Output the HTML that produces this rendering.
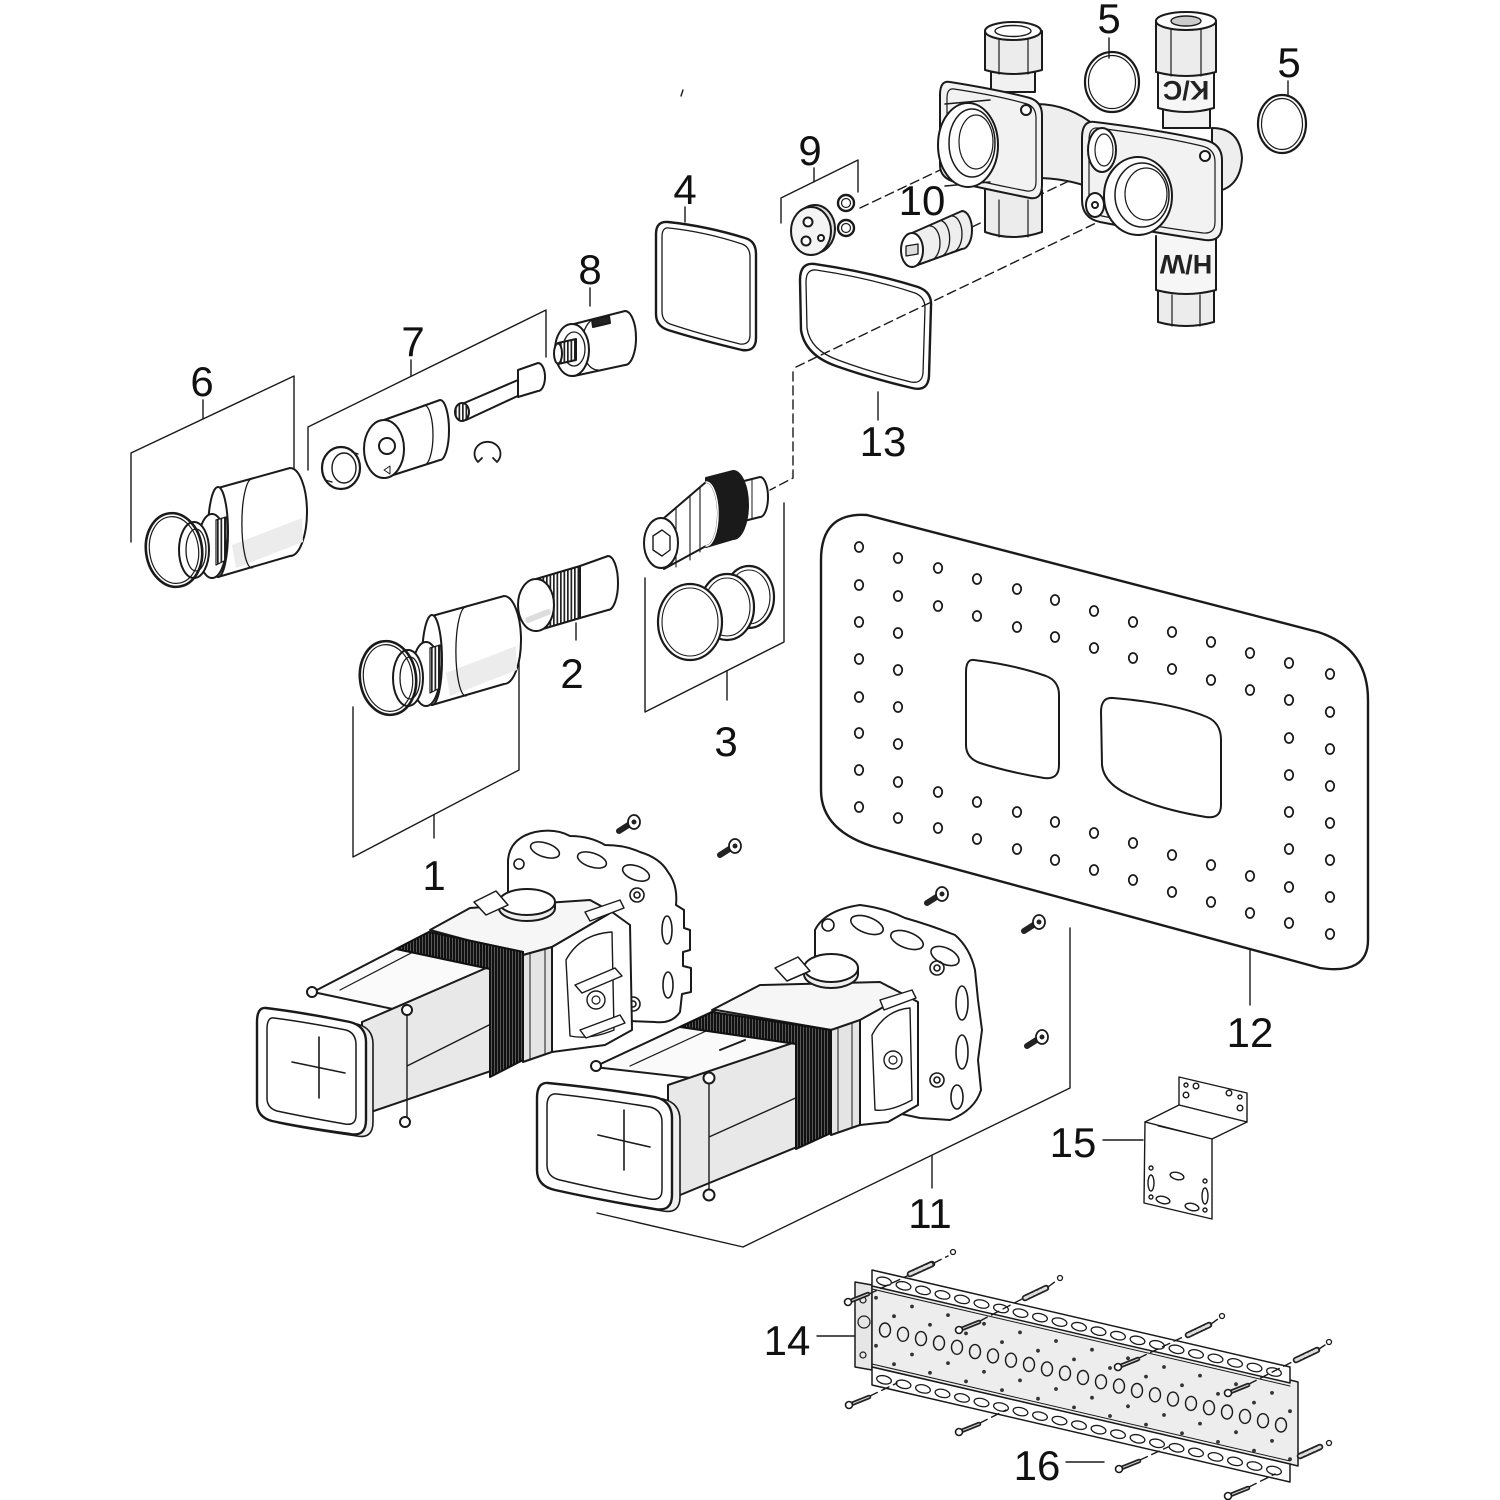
<!DOCTYPE html>
<html><head><meta charset="utf-8"><style>html,body{margin:0;padding:0;background:#fff}svg{display:block}</style></head>
<body>
<svg width="1500" height="1500" viewBox="0 0 1500 1500" xmlns="http://www.w3.org/2000/svg">
<defs>
<pattern id="kn" width="3.5" height="10" patternUnits="userSpaceOnUse"><rect width="3.5" height="10" fill="#fff"/><rect width="1.7" height="10" fill="#222"/></pattern>
<pattern id="bk" width="3" height="10" patternUnits="userSpaceOnUse"><rect width="3" height="10" fill="#111"/><rect x="2" width="0.7" height="10" fill="#777"/></pattern>
</defs>
<rect width="1500" height="1500" fill="#fff"/>
<g fill="none" stroke="#1a1a1a" stroke-width="2" stroke-linejoin="round" stroke-linecap="round">

<!-- ===== leader lines / brackets ===== -->
<g stroke-width="1.4">
<path d="M1109 38 V58"/>
<path d="M1288 81 V96"/>
<path d="M781 223 V198 L858 160 V192"/><path d="M814 168 V182"/>
<path d="M685 207 V222"/>
<path d="M590 288 V306"/>
<path d="M308 470 V427 L546 310 V357"/><path d="M411 360 V376"/>
<path d="M131 542 V453 L294 376 V468"/><path d="M203 400 V419"/>
<path d="M878 392 V420"/>
<path d="M576 623 V640"/>
<path d="M784 503 V642 L645 712 V578"/><path d="M727 671 V700"/>
<path d="M353 707 V857 L519 770 V647"/><path d="M434 815 V838"/>
<path d="M597 1213 L743 1247 L1070 1088 V928"/><path d="M932 1156 V1188"/>
<path d="M1250 950 V1005"/>
<path d="M1103 1140 H1143"/>
<path d="M817 1336 H855"/>
<path d="M1066 1462 H1104"/>
<path d="M683 90 L681 96"/>
</g>
<g stroke-width="1.4" stroke-dasharray="9 5">
<path d="M860 208 L978 152"/>
<path d="M972 227 L1130 152"/>
<path d="M796 367 L1144 200"/>
<path d="M793 372 V478 L770 490"/>
</g>

<!-- ===== valve body (top right) ===== -->
<rect x="991" y="68" width="44" height="24" fill="#f1f1f1"/>
<path d="M985 31 L985 70 Q1013 78 1042 70 L1042 31" fill="#ececec"/>
<path d="M999 36 V74 M1028 36 V74" stroke-width="1.2"/>
<ellipse cx="1013" cy="31" rx="28" ry="9" fill="#fff"/>
<ellipse cx="1013" cy="31" rx="18" ry="5.5" fill="#fff" stroke-width="1.4"/>
<path d="M985 190 L985 232 Q1013 242 1042 232 L1042 190" fill="#ececec"/>
<path d="M999 200 V237 M1028 200 V237" stroke-width="1.2"/>
<path d="M1036 104 Q1070 104 1098 128 L1092 188 Q1065 178 1036 178 Z" fill="#eee"/>
<path d="M950 82 Q1000 90 1030 98 Q1042 102 1042 115 L1042 185 Q1042 200 1030 198 Q990 190 955 182 Q940 178 940 165 L940 95 Q940 80 950 82 Z" fill="#f2f2f2"/>
<path d="M954 89 Q1000 96 1027 104 Q1036 107 1036 118 L1036 182 Q1036 192 1027 191 Q990 184 958 176 Q947 173 947 163 L947 98 Q947 88 954 89 Z" stroke-width="1.2"/>
<circle cx="1026" cy="110" r="5" fill="#fff"/>
<path d="M945 104 L990 100 M945 186 L990 182" stroke-width="1.5"/>
<ellipse cx="968" cy="145" rx="30" ry="42" fill="#fff"/>
<ellipse cx="972" cy="143" rx="23" ry="34" stroke-width="1.5"/>
<ellipse cx="976" cy="142" rx="17" ry="27" stroke-width="1.2"/>
<rect x="1163" y="104" width="47" height="24" fill="#f1f1f1"/>
<path d="M1158 72 L1158 108 Q1186 116 1214 108 L1214 72" fill="#f6f6f6"/>
<path d="M1156 22 L1156 72 Q1186 80 1216 72 L1216 22" fill="#ececec"/>
<path d="M1171 28 V76 M1201 28 V76" stroke-width="1.2"/>
<ellipse cx="1186" cy="21" rx="30" ry="9" fill="#fff"/>
<ellipse cx="1186" cy="21" rx="15" ry="5" fill="#ccc" stroke-width="1.4"/>
<text x="1186" y="101" transform="rotate(180 1186 91)" font-family="'Liberation Sans', sans-serif" font-size="27" font-weight="bold" fill="#222" stroke="none" text-anchor="middle">K/C</text>
<path d="M1158 290 L1158 322 Q1186 330 1214 322 L1214 290" fill="#ececec"/>
<path d="M1156 236 L1156 290 Q1186 298 1216 290 L1216 236" fill="#f6f6f6"/>
<path d="M1172 295 V326 M1200 295 V326" stroke-width="1.2"/>
<text x="1186" y="275" transform="rotate(180 1186 265)" font-family="'Liberation Sans', sans-serif" font-size="27" font-weight="bold" fill="#222" stroke="none" text-anchor="middle">H/W</text>
<path d="M1212 128 Q1240 128 1242 158 Q1240 190 1212 192 Z" fill="#eee"/>
<path d="M1095 122 Q1160 130 1205 140 Q1222 144 1222 160 L1222 225 Q1222 242 1205 240 Q1150 232 1100 222 Q1082 218 1082 200 L1082 138 Q1082 120 1095 122 Z" fill="#f2f2f2"/>
<path d="M1098 128 Q1160 136 1202 146 Q1215 149 1215 162 L1215 222 Q1215 234 1203 233 Q1150 226 1102 216 Q1089 213 1089 200 L1089 140 Q1089 127 1098 128 Z" stroke-width="1.2"/>
<circle cx="1205" cy="156" r="5" fill="#fff"/>
<ellipse cx="1102" cy="150" rx="14" ry="22" fill="#fff"/>
<ellipse cx="1104" cy="150" rx="9" ry="16" stroke-width="1.2"/>
<ellipse cx="1095" cy="205" rx="9" ry="12" fill="#fff"/>
<circle cx="1095" cy="205" r="3"/>
<ellipse cx="1138" cy="196" rx="34" ry="39" fill="#fff"/>
<ellipse cx="1142" cy="195" rx="27" ry="32" stroke-width="1.5"/>
<ellipse cx="1146" cy="194" rx="21" ry="26" stroke-width="1.2"/>

<!-- rings 5 -->
<ellipse cx="1112" cy="82" rx="27" ry="30" stroke-width="2.2"/>
<ellipse cx="1112" cy="82" rx="23.5" ry="26.5" stroke-width="1.2"/>
<ellipse cx="1282" cy="124" rx="24" ry="29" stroke-width="2.2"/>
<ellipse cx="1282" cy="124" rx="20.5" ry="25.5" stroke-width="1.2"/>

<!-- item 10 -->
<path d="M912 233 L962 211 A10 19 0 0 1 962 249 L912 267 Z" fill="#eee"/>
<path d="M930 226 A10 17 0 0 1 930 260 M942 221 A10 18 0 0 1 942 256 M952 216 A10 18 0 0 1 952 252" stroke-width="1.3"/>
<ellipse cx="912" cy="250" rx="11" ry="17" fill="#fff"/>
<path d="M906 246 L918 244 L918 254 L906 256 Z" fill="#ddd" stroke-width="1.3"/>

<!-- item 9 -->
<ellipse cx="815" cy="229" rx="20" ry="24" fill="#ddd"/>
<ellipse cx="811" cy="231" rx="20" ry="24" fill="#f4f4f4"/>
<circle cx="808" cy="222" r="4.5" fill="#fff"/>
<circle cx="806" cy="241" r="4.5" fill="#fff"/>
<circle cx="821" cy="238" r="3" fill="#fff"/>
<ellipse cx="846" cy="203" rx="8" ry="8" stroke-width="2.4"/>
<ellipse cx="846" cy="203" rx="4.5" ry="4.5" stroke-width="1.2"/>
<ellipse cx="846" cy="228" rx="8" ry="8" stroke-width="2.4"/>
<ellipse cx="846" cy="228" rx="4.5" ry="4.5" stroke-width="1.2"/>

<!-- gasket 4 -->
<path d="M668 222 Q706 226 745 238 Q756 241 756 254 L756 338 Q756 352 742 350 Q700 340 668 330 Q656 326 656 314 L656 234 Q656 221 668 222 Z" stroke-width="2.4"/>
<path d="M669 228 Q706 232 742 244 Q750 247 750 257 L750 335 Q750 345 740 344 Q700 334 670 324 Q662 321 662 311 L662 237 Q662 227 669 228 Z" stroke-width="1.3"/>
<!-- gasket 13 -->
<path d="M815 264 Q870 272 918 287 Q932 292 931 306 L929 376 Q928 392 912 388 Q870 378 836 366 Q805 355 801 330 L800 280 Q800 262 815 264 Z" stroke-width="2.4"/>
<path d="M816 270 Q870 278 915 293 Q925 297 925 308 L923 373 Q922 384 911 382 Q870 372 838 360 Q810 350 807 328 L806 282 Q806 269 816 270 Z" stroke-width="1.3"/>

<!-- item 8 -->
<path d="M574 324 L625 311 A11 27 0 0 1 625 365 L574 376 Z" fill="#fff"/>
<path d="M598 318 A16 26 0 0 0 598 370" stroke-width="1.3"/>
<path d="M592 320 L609 316 L610 323 L593 327 Z" fill="#222"/>
<ellipse cx="572" cy="350" rx="17" ry="26" fill="#fff"/>
<ellipse cx="574" cy="349" rx="11" ry="17" stroke-width="1.3"/>
<path d="M558 343 L576 339 L576 360 L558 364 Z" fill="url(#kn)"/>
<ellipse cx="558" cy="353.5" rx="4" ry="10" fill="#fff"/>

<!-- item 7 -->
<ellipse cx="341" cy="468" rx="19" ry="21" fill="#fff" stroke-width="2.2"/>
<ellipse cx="344" cy="468" rx="12" ry="15" stroke-width="1.4"/>
<path d="M325 480 L332 482 M352 452 L358 454" stroke-width="1.4"/>
<path d="M384 420 L440 400 A9 30 0 0 1 440 460 L384 478 Z" fill="#fff"/>
<path d="M424 405 A9 30 0 0 1 424 465" stroke-width="1.3"/>
<ellipse cx="384" cy="449" rx="20" ry="29" fill="#fff"/>
<circle cx="387" cy="446" r="8"/>
<path d="M384 470 L390 466 L390 474 Z" stroke-width="1"/>
<path d="M462 404 L518 380 L522 394 L466 420 Z" fill="#fff"/>
<path d="M518 370 L538 363 A7 14 0 0 1 538 391 L518 397 Z" fill="#fff"/>
<ellipse cx="462" cy="412" rx="7" ry="9" fill="url(#kn)"/>
<path d="M478 462 A13 12 0 1 1 497 462 M478 462 L482 458 M497 462 L493 458" stroke-width="1.8"/>

<!-- item 6 -->
<g id="knob6">
<path d="M218 488 L290 468 A17 44 0 0 1 290 556 L218 577 Z" fill="#fff"/>
<path d="M232 545 L302 518 L303 542 L236 568 Z" fill="#ececec" stroke="none"/>
<path d="M252 479 A10 44 0 0 0 252 568" stroke-width="1.3"/>
<ellipse cx="218" cy="532" rx="10" ry="45" fill="#fff"/>
<ellipse cx="212" cy="546" rx="14" ry="32" fill="#fff"/>
<path d="M216 520 L226 517 L226 560 L216 565 Z" fill="url(#kn)" stroke-width="1.2"/>
<ellipse cx="194" cy="550" rx="15" ry="28" fill="#fff"/>
<ellipse cx="196" cy="550" rx="10" ry="21" stroke-width="1.3"/>
<ellipse cx="174" cy="550" rx="28" ry="37" transform="rotate(-8 174 550)" stroke-width="2.6"/>
<ellipse cx="174" cy="550" rx="24.5" ry="33.5" transform="rotate(-8 174 550)" stroke-width="1.2"/>
</g>

<!-- item 1 -->
<g transform="translate(214 128)">
<path d="M218 488 L290 468 A17 44 0 0 1 290 556 L218 577 Z" fill="#fff"/>
<path d="M232 545 L302 518 L303 542 L236 568 Z" fill="#ececec" stroke="none"/>
<path d="M252 479 A10 44 0 0 0 252 568" stroke-width="1.3"/>
<ellipse cx="218" cy="532" rx="10" ry="45" fill="#fff"/>
<ellipse cx="212" cy="546" rx="14" ry="32" fill="#fff"/>
<path d="M216 520 L226 517 L226 560 L216 565 Z" fill="url(#kn)" stroke-width="1.2"/>
<ellipse cx="194" cy="550" rx="15" ry="28" fill="#fff"/>
<ellipse cx="196" cy="550" rx="10" ry="21" stroke-width="1.3"/>
<ellipse cx="174" cy="550" rx="28" ry="37" transform="rotate(-8 174 550)" stroke-width="2.6"/>
<ellipse cx="174" cy="550" rx="24.5" ry="33.5" transform="rotate(-8 174 550)" stroke-width="1.2"/>
</g>

<!-- item 2 -->
<path d="M580 566 L608 556 A10 27 0 0 1 608 610 L580 618 Z" fill="#fff"/>
<path d="M536 579 L580 566 L580 618 L536 631 Z" fill="url(#kn)"/>
<ellipse cx="536" cy="605" rx="18" ry="26" fill="#fff"/>
<path d="M528 620 L548 612" stroke="#ddd" stroke-width="6"/>

<!-- item 3 cartridge -->
<path d="M740 482 L760 477 A8 20 0 0 1 760 517 L740 522 Z" fill="#fff"/>
<path d="M752 479 L752 519" stroke-width="1"/>
<path d="M706 478 L733 471 A15 34 0 0 1 733 539 L706 547 Z" fill="#1a1a1a"/>
<path d="M664 518 L706 482 A12 32 0 0 1 706 546 L664 569 Z" fill="#fff"/>
<path d="M676 508 L676 567 M690 496 L690 560 M700 488 L700 552" stroke-width="1.1"/>
<path d="M706 482 A12 32 0 0 1 706 546" stroke="#fff" stroke-width="1.5"/>
<ellipse cx="661" cy="543" rx="17" ry="25" fill="#fff"/>
<path d="M653 536 L662 530 L670 536 L670 550 L662 556 L653 550 Z" stroke-width="1.4"/>
<!-- o-rings 3 -->
<ellipse cx="749" cy="597" rx="25" ry="31" stroke-width="2.2"/>
<ellipse cx="749" cy="597" rx="21" ry="27" stroke-width="1.1"/>
<ellipse cx="727" cy="607" rx="27" ry="33" fill="#fff" stroke-width="2.2"/>
<ellipse cx="727" cy="607" rx="23" ry="29" stroke-width="1.1"/>
<ellipse cx="690" cy="622" rx="32" ry="38" fill="#fff" stroke-width="2.2"/>
<ellipse cx="690" cy="622" rx="28" ry="34" stroke-width="1.1"/>

<!-- ===== plate 12 ===== -->
<path d="M821 560 Q821 512 867 515 L1318 632 Q1368 648 1368 700 L1368 940 Q1368 975 1320 968 L878 848 Q821 832 821 790 Z" fill="#fff" stroke-width="2.4"/>
<path d="M974 660 Q1015 665 1046 676 Q1059 681 1059 695 L1059 765 Q1059 780 1044 778 Q1008 772 980 763 Q966 758 966 745 L966 672 Q966 659 974 660 Z"/>
<path d="M1113 698 Q1173 703 1207 717 Q1221 723 1221 740 L1221 805 Q1221 819 1206 817 Q1163 810 1134 797 Q1104 785 1102 765 L1101 712 Q1101 697 1113 698 Z"/>
<g stroke-width="1.8">
<ellipse cx="859" cy="547" rx="4.2" ry="5"/><ellipse cx="859" cy="585" rx="4.2" ry="5"/><ellipse cx="859" cy="622" rx="4.2" ry="5"/><ellipse cx="859" cy="659" rx="4.2" ry="5"/><ellipse cx="859" cy="697" rx="4.2" ry="5"/><ellipse cx="859" cy="733" rx="4.2" ry="5"/><ellipse cx="859" cy="770" rx="4.2" ry="5"/><ellipse cx="859" cy="807" rx="4.2" ry="5"/>
<ellipse cx="898" cy="558" rx="4.2" ry="5"/><ellipse cx="898" cy="596" rx="4.2" ry="5"/><ellipse cx="898" cy="633" rx="4.2" ry="5"/><ellipse cx="898" cy="670" rx="4.2" ry="5"/><ellipse cx="898" cy="707" rx="4.2" ry="5"/><ellipse cx="898" cy="744" rx="4.2" ry="5"/><ellipse cx="898" cy="782" rx="4.2" ry="5"/><ellipse cx="898" cy="818" rx="4.2" ry="5"/>
<ellipse cx="938" cy="568" rx="4.2" ry="5"/><ellipse cx="938" cy="606" rx="4.2" ry="5"/><ellipse cx="938" cy="792" rx="4.2" ry="5"/><ellipse cx="938" cy="828" rx="4.2" ry="5"/>
<ellipse cx="977" cy="579" rx="4.2" ry="5"/><ellipse cx="977" cy="616" rx="4.2" ry="5"/><ellipse cx="977" cy="802" rx="4.2" ry="5"/><ellipse cx="977" cy="839" rx="4.2" ry="5"/>
<ellipse cx="1017" cy="589" rx="4.2" ry="5"/><ellipse cx="1017" cy="627" rx="4.2" ry="5"/><ellipse cx="1017" cy="812" rx="4.2" ry="5"/><ellipse cx="1017" cy="849" rx="4.2" ry="5"/>
<ellipse cx="1055" cy="600" rx="4.2" ry="5"/><ellipse cx="1055" cy="637" rx="4.2" ry="5"/><ellipse cx="1055" cy="822" rx="4.2" ry="5"/><ellipse cx="1055" cy="860" rx="4.2" ry="5"/>
<ellipse cx="1094" cy="611" rx="4.2" ry="5"/><ellipse cx="1094" cy="648" rx="4.2" ry="5"/><ellipse cx="1094" cy="833" rx="4.2" ry="5"/><ellipse cx="1094" cy="870" rx="4.2" ry="5"/>
<ellipse cx="1133" cy="622" rx="4.2" ry="5"/><ellipse cx="1133" cy="658" rx="4.2" ry="5"/><ellipse cx="1133" cy="843" rx="4.2" ry="5"/><ellipse cx="1133" cy="880" rx="4.2" ry="5"/>
<ellipse cx="1172" cy="632" rx="4.2" ry="5"/><ellipse cx="1172" cy="669" rx="4.2" ry="5"/><ellipse cx="1172" cy="855" rx="4.2" ry="5"/><ellipse cx="1172" cy="892" rx="4.2" ry="5"/>
<ellipse cx="1211" cy="642" rx="4.2" ry="5"/><ellipse cx="1211" cy="680" rx="4.2" ry="5"/><ellipse cx="1211" cy="865" rx="4.2" ry="5"/><ellipse cx="1211" cy="902" rx="4.2" ry="5"/>
<ellipse cx="1250" cy="653" rx="4.2" ry="5"/><ellipse cx="1250" cy="690" rx="4.2" ry="5"/><ellipse cx="1250" cy="876" rx="4.2" ry="5"/><ellipse cx="1250" cy="913" rx="4.2" ry="5"/>
<ellipse cx="1289" cy="663" rx="4.2" ry="5"/><ellipse cx="1289" cy="700" rx="4.2" ry="5"/><ellipse cx="1289" cy="738" rx="4.2" ry="5"/><ellipse cx="1289" cy="775" rx="4.2" ry="5"/><ellipse cx="1289" cy="812" rx="4.2" ry="5"/><ellipse cx="1289" cy="849" rx="4.2" ry="5"/><ellipse cx="1289" cy="887" rx="4.2" ry="5"/><ellipse cx="1289" cy="923" rx="4.2" ry="5"/>
<ellipse cx="1330" cy="674" rx="4.2" ry="5"/><ellipse cx="1330" cy="712" rx="4.2" ry="5"/><ellipse cx="1330" cy="749" rx="4.2" ry="5"/><ellipse cx="1330" cy="786" rx="4.2" ry="5"/><ellipse cx="1330" cy="823" rx="4.2" ry="5"/><ellipse cx="1330" cy="860" rx="4.2" ry="5"/><ellipse cx="1330" cy="897" rx="4.2" ry="5"/><ellipse cx="1330" cy="934" rx="4.2" ry="5"/>
</g>

<!-- ===== bracket 15 ===== -->
<g stroke-width="1.4">
<path d="M1179 1077 L1247 1093 L1247 1122 L1179 1105 Z" fill="#fff"/>
<path d="M1145 1122 L1179 1105 L1247 1122 L1212 1139 Z" fill="#fff"/>
<path d="M1145 1122 L1212 1139 L1212 1219 L1144 1203 Z" fill="#fff"/>
<path d="M1158 1126 L1200 1136" stroke-width="1"/>
<circle cx="1186" cy="1085" r="2"/><circle cx="1196" cy="1086" r="2.8"/><circle cx="1229" cy="1093" r="2.8"/><circle cx="1240" cy="1097" r="2"/><circle cx="1186" cy="1095" r="2.8"/><circle cx="1240" cy="1108" r="2.8"/>
<ellipse cx="1151" cy="1183" rx="3" ry="8"/><ellipse cx="1205" cy="1196" rx="3" ry="8"/>
<ellipse cx="1177" cy="1176" rx="7" ry="3.5" transform="rotate(14 1177 1176)"/>
<ellipse cx="1163" cy="1200" rx="7" ry="3.5" transform="rotate(14 1163 1200)"/>
<ellipse cx="1192" cy="1207" rx="7" ry="3.5" transform="rotate(14 1192 1207)"/>
<circle cx="1151" cy="1168" r="2"/><circle cx="1151" cy="1197" r="2"/><circle cx="1205" cy="1181" r="2"/><circle cx="1205" cy="1210" r="2"/>
</g>

<!-- ===== rail 14 ===== -->
<path d="M855 1282 L872 1285 L872 1370 L855 1367 Z" fill="#e6e6e6" stroke-width="1.5"/>
<circle cx="863" cy="1300" r="3" stroke-width="1.2"/><circle cx="864" cy="1322" r="6" stroke-width="1.2"/><circle cx="863" cy="1355" r="3" stroke-width="1.2"/>
<path d="M872 1283 L1290 1380 L1298 1382 L1298 1466 L1290 1464 L872 1367 Z" fill="#ededed" stroke-width="1.5"/>
<path d="M872 1270 L1290 1367 L1290 1383 L872 1286 Z" fill="#fff" stroke-width="1.5"/>
<path d="M872 1367 L1290 1464 L1290 1482 L872 1385 Z" fill="#fff" stroke-width="1.5"/>
<path d="M872 1289 L1290 1386 M872 1364 L1290 1461" stroke-width="1"/>
<g stroke-width="1.4">
<ellipse cx="885" cy="1330" rx="5.5" ry="7"/><ellipse cx="903" cy="1334.3" rx="5.5" ry="7"/><ellipse cx="921" cy="1338.6" rx="5.5" ry="7"/><ellipse cx="939" cy="1343" rx="5.5" ry="7"/><ellipse cx="957" cy="1347.3" rx="5.5" ry="7"/><ellipse cx="975" cy="1351.6" rx="5.5" ry="7"/><ellipse cx="993" cy="1355.9" rx="5.5" ry="7"/><ellipse cx="1011" cy="1360.2" rx="5.5" ry="7"/><ellipse cx="1029" cy="1364.5" rx="5.5" ry="7"/><ellipse cx="1047" cy="1368.9" rx="5.5" ry="7"/><ellipse cx="1065" cy="1373.2" rx="5.5" ry="7"/><ellipse cx="1083" cy="1377.5" rx="5.5" ry="7"/><ellipse cx="1101" cy="1381.8" rx="5.5" ry="7"/><ellipse cx="1119" cy="1386.1" rx="5.5" ry="7"/><ellipse cx="1137" cy="1390.5" rx="5.5" ry="7"/><ellipse cx="1155" cy="1394.8" rx="5.5" ry="7"/><ellipse cx="1173" cy="1399.1" rx="5.5" ry="7"/><ellipse cx="1191" cy="1403.4" rx="5.5" ry="7"/><ellipse cx="1209" cy="1407.7" rx="5.5" ry="7"/><ellipse cx="1227" cy="1412" rx="5.5" ry="7"/><ellipse cx="1245" cy="1416.4" rx="5.5" ry="7"/><ellipse cx="1263" cy="1420.7" rx="5.5" ry="7"/><ellipse cx="1281" cy="1425" rx="5.5" ry="7"/>
</g>
<g stroke-width="1.3">
<ellipse cx="0" cy="0" rx="7.5" ry="4" transform="translate(884 1281.3) rotate(13)"/><ellipse cx="0" cy="0" rx="7.5" ry="4" transform="translate(903.5 1285.8) rotate(13)"/><ellipse cx="0" cy="0" rx="7.5" ry="4" transform="translate(923 1290.4) rotate(13)"/><ellipse cx="0" cy="0" rx="7.5" ry="4" transform="translate(942.5 1294.9) rotate(13)"/><ellipse cx="0" cy="0" rx="7.5" ry="4" transform="translate(962 1299.4) rotate(13)"/><ellipse cx="0" cy="0" rx="7.5" ry="4" transform="translate(981.5 1304) rotate(13)"/><ellipse cx="0" cy="0" rx="7.5" ry="4" transform="translate(1001 1308.5) rotate(13)"/><ellipse cx="0" cy="0" rx="7.5" ry="4" transform="translate(1020.5 1313.1) rotate(13)"/><ellipse cx="0" cy="0" rx="7.5" ry="4" transform="translate(1040 1317.6) rotate(13)"/><ellipse cx="0" cy="0" rx="7.5" ry="4" transform="translate(1059.5 1322.1) rotate(13)"/><ellipse cx="0" cy="0" rx="7.5" ry="4" transform="translate(1079 1326.7) rotate(13)"/><ellipse cx="0" cy="0" rx="7.5" ry="4" transform="translate(1098.5 1331.2) rotate(13)"/><ellipse cx="0" cy="0" rx="7.5" ry="4" transform="translate(1118 1335.7) rotate(13)"/><ellipse cx="0" cy="0" rx="7.5" ry="4" transform="translate(1137.5 1340.3) rotate(13)"/><ellipse cx="0" cy="0" rx="7.5" ry="4" transform="translate(1157 1344.8) rotate(13)"/><ellipse cx="0" cy="0" rx="7.5" ry="4" transform="translate(1176.5 1349.3) rotate(13)"/><ellipse cx="0" cy="0" rx="7.5" ry="4" transform="translate(1196 1353.9) rotate(13)"/><ellipse cx="0" cy="0" rx="7.5" ry="4" transform="translate(1215.5 1358.4) rotate(13)"/><ellipse cx="0" cy="0" rx="7.5" ry="4" transform="translate(1235 1362.9) rotate(13)"/><ellipse cx="0" cy="0" rx="7.5" ry="4" transform="translate(1254.5 1367.5) rotate(13)"/><ellipse cx="0" cy="0" rx="7.5" ry="4" transform="translate(1274 1372) rotate(13)"/>
<ellipse cx="0" cy="0" rx="7.5" ry="4" transform="translate(884 1379.8) rotate(13)"/><ellipse cx="0" cy="0" rx="7.5" ry="4" transform="translate(903.5 1384.3) rotate(13)"/><ellipse cx="0" cy="0" rx="7.5" ry="4" transform="translate(923 1388.9) rotate(13)"/><ellipse cx="0" cy="0" rx="7.5" ry="4" transform="translate(942.5 1393.4) rotate(13)"/><ellipse cx="0" cy="0" rx="7.5" ry="4" transform="translate(962 1397.9) rotate(13)"/><ellipse cx="0" cy="0" rx="7.5" ry="4" transform="translate(981.5 1402.5) rotate(13)"/><ellipse cx="0" cy="0" rx="7.5" ry="4" transform="translate(1001 1407) rotate(13)"/><ellipse cx="0" cy="0" rx="7.5" ry="4" transform="translate(1020.5 1411.6) rotate(13)"/><ellipse cx="0" cy="0" rx="7.5" ry="4" transform="translate(1040 1416.1) rotate(13)"/><ellipse cx="0" cy="0" rx="7.5" ry="4" transform="translate(1059.5 1420.6) rotate(13)"/><ellipse cx="0" cy="0" rx="7.5" ry="4" transform="translate(1079 1425.2) rotate(13)"/><ellipse cx="0" cy="0" rx="7.5" ry="4" transform="translate(1098.5 1429.7) rotate(13)"/><ellipse cx="0" cy="0" rx="7.5" ry="4" transform="translate(1118 1434.2) rotate(13)"/><ellipse cx="0" cy="0" rx="7.5" ry="4" transform="translate(1137.5 1438.8) rotate(13)"/><ellipse cx="0" cy="0" rx="7.5" ry="4" transform="translate(1157 1443.3) rotate(13)"/><ellipse cx="0" cy="0" rx="7.5" ry="4" transform="translate(1176.5 1447.8) rotate(13)"/><ellipse cx="0" cy="0" rx="7.5" ry="4" transform="translate(1196 1452.4) rotate(13)"/><ellipse cx="0" cy="0" rx="7.5" ry="4" transform="translate(1215.5 1456.9) rotate(13)"/><ellipse cx="0" cy="0" rx="7.5" ry="4" transform="translate(1235 1461.4) rotate(13)"/><ellipse cx="0" cy="0" rx="7.5" ry="4" transform="translate(1254.5 1466) rotate(13)"/><ellipse cx="0" cy="0" rx="7.5" ry="4" transform="translate(1274 1470.5) rotate(13)"/>
</g>
<g fill="#333" stroke="none">
<circle cx="876" cy="1297.8" r="1.9"/><circle cx="912" cy="1306.5" r="1.9"/><circle cx="948" cy="1315.1" r="1.9"/><circle cx="984" cy="1323.8" r="1.9"/><circle cx="1020" cy="1332.4" r="1.9"/><circle cx="1056" cy="1341" r="1.9"/><circle cx="1092" cy="1349.7" r="1.9"/><circle cx="1128" cy="1358.3" r="1.9"/><circle cx="1164" cy="1367" r="1.9"/><circle cx="1200" cy="1375.6" r="1.9"/><circle cx="1236" cy="1384.2" r="1.9"/><circle cx="1272" cy="1392.9" r="1.9"/>
<circle cx="894" cy="1316.2" r="1.9"/><circle cx="930" cy="1324.8" r="1.9"/><circle cx="966" cy="1333.4" r="1.9"/><circle cx="1002" cy="1342.1" r="1.9"/><circle cx="1038" cy="1350.7" r="1.9"/><circle cx="1074" cy="1359.4" r="1.9"/><circle cx="1110" cy="1368" r="1.9"/><circle cx="1146" cy="1376.6" r="1.9"/><circle cx="1182" cy="1385.3" r="1.9"/><circle cx="1218" cy="1393.9" r="1.9"/><circle cx="1254" cy="1402.6" r="1.9"/><circle cx="1290" cy="1411.2" r="1.9"/>
<circle cx="876" cy="1345.8" r="1.9"/><circle cx="912" cy="1354.5" r="1.9"/><circle cx="948" cy="1363.1" r="1.9"/><circle cx="984" cy="1371.8" r="1.9"/><circle cx="1020" cy="1380.4" r="1.9"/><circle cx="1056" cy="1389" r="1.9"/><circle cx="1092" cy="1397.7" r="1.9"/><circle cx="1128" cy="1406.3" r="1.9"/><circle cx="1164" cy="1415" r="1.9"/><circle cx="1200" cy="1423.6" r="1.9"/><circle cx="1236" cy="1432.2" r="1.9"/><circle cx="1272" cy="1440.9" r="1.9"/>
<circle cx="894" cy="1364.2" r="1.9"/><circle cx="930" cy="1372.8" r="1.9"/><circle cx="966" cy="1381.4" r="1.9"/><circle cx="1002" cy="1390.1" r="1.9"/><circle cx="1038" cy="1398.7" r="1.9"/><circle cx="1074" cy="1407.4" r="1.9"/><circle cx="1110" cy="1416" r="1.9"/><circle cx="1146" cy="1424.6" r="1.9"/><circle cx="1182" cy="1433.3" r="1.9"/><circle cx="1218" cy="1441.9" r="1.9"/><circle cx="1254" cy="1450.6" r="1.9"/><circle cx="1290" cy="1459.2" r="1.9"/>
</g>
<!-- screws / anchors 16 -->
<g stroke-width="1.4" stroke-dasharray="8 5">
<path d="M869 1294 L907 1276 M934 1263 L948 1256"/>
<path d="M980 1321 L1022 1299 M1048 1287 L1056 1281"/>
<path d="M1139 1358 L1185 1336 M1211 1324 L1218 1319"/>
<path d="M1249 1384 L1292 1362 M1319 1349 L1325 1345"/>
<path d="M870 1396 L897 1383"/>
<path d="M980 1423 L1006 1410"/>
<path d="M1140 1460 L1168 1447"/>
<path d="M1249 1487 L1275 1474"/>
</g>
<g>
<path d="M848 1302 L868 1294 M959 1330 L979 1322 M1118 1367 L1138 1359 M1228 1393 L1248 1385 M849 1405 L869 1397 M959 1432 L979 1424 M1119 1469 L1139 1461 M1228 1496 L1248 1488" stroke="#222" stroke-width="4.5"/>
<path d="M848 1302 L868 1294 M959 1330 L979 1322 M1118 1367 L1138 1359 M1228 1393 L1248 1385 M849 1405 L869 1397 M959 1432 L979 1424 M1119 1469 L1139 1461 M1228 1496 L1248 1488" stroke="#ccc" stroke-width="1.2"/>
<g fill="#fff" stroke-width="1.6"><circle cx="848" cy="1302" r="3.5"/><circle cx="959" cy="1330" r="3.5"/><circle cx="1118" cy="1367" r="3.5"/><circle cx="1228" cy="1393" r="3.5"/><circle cx="849" cy="1405" r="3.5"/><circle cx="959" cy="1432" r="3.5"/><circle cx="1119" cy="1469" r="3.5"/><circle cx="1228" cy="1496" r="3.5"/></g>
<path d="M910 1274 L932 1264 M1025 1298 L1046 1288 M1188 1335 L1209 1325 M1296 1360 L1317 1350 M1300 1456 L1320 1447" stroke="#222" stroke-width="6.5"/>
<path d="M910 1274 L932 1264 M1025 1298 L1046 1288 M1188 1335 L1209 1325 M1296 1360 L1317 1350 M1300 1456 L1320 1447" stroke="#ddd" stroke-width="3" stroke-dasharray="3 2"/>
<g stroke-width="1.3" fill="#fff"><circle cx="953" cy="1252" r="2.5"/><circle cx="1060" cy="1278" r="2.5"/><circle cx="1222" cy="1316" r="2.5"/><circle cx="1329" cy="1342" r="2.5"/><circle cx="1329" cy="1443" r="2.5"/></g>
</g>

<!-- ===== screws near boxes ===== -->
<g>
<path d="M630 824 L619 831 M731 848 L720 855 M938 896 L927 903 M1035 924 L1024 931 M1038 1039 L1027 1046" stroke="#222" stroke-width="6"/>
<g fill="#fff" stroke-width="1.8"><ellipse cx="634" cy="822" rx="6" ry="7"/><ellipse cx="735" cy="846" rx="6" ry="7"/><ellipse cx="942" cy="894" rx="6" ry="7"/><ellipse cx="1039" cy="922" rx="6" ry="7"/><ellipse cx="1042" cy="1037" rx="6" ry="7"/></g>
<g fill="#222" stroke="none"><circle cx="634" cy="822" r="2.5"/><circle cx="735" cy="846" r="2.5"/><circle cx="942" cy="894" r="2.5"/><circle cx="1039" cy="922" r="2.5"/><circle cx="1042" cy="1037" r="2.5"/></g>
</g>

<!-- ===== BOX 1 ===== -->
<path d="M508 860 Q510 838 535 832 Q555 828 570 836 Q590 836 605 845 Q625 845 640 852 Q660 858 668 872 Q678 885 676 905 L684 910 L684 928 L690 930 L690 950 L683 952 L683 966 L691 968 L691 992 L682 994 L680 1012 Q672 1024 655 1022 L600 1020 L520 1000 L508 960 Z" fill="#fff"/>
<g stroke-width="1.6">
<ellipse cx="545" cy="850" rx="15" ry="7" transform="rotate(18 545 850)"/>
<ellipse cx="592" cy="860" rx="15" ry="7" transform="rotate(18 592 860)"/>
<ellipse cx="636" cy="873" rx="14" ry="7" transform="rotate(20 636 873)"/>
<ellipse cx="667" cy="930" rx="5" ry="14"/>
<ellipse cx="668" cy="985" rx="5" ry="13"/>
<circle cx="637" cy="895" r="7"/><circle cx="637" cy="895" r="3"/>
<circle cx="633" cy="1004" r="7"/><circle cx="633" cy="1004" r="3"/>
<circle cx="519" cy="864" r="5"/>
</g>
<path d="M430 930 L470 908 L590 900 L612 912 L552 947 L523 955 Z" fill="#f6f6f6"/>
<path d="M552 947 L612 912 L630 925 L632 1030 L605 1045 L552 1052 Z" fill="#fff"/>
<path d="M566 960 Q580 934 612 932 L614 1030 Q590 1040 570 1036 Z" stroke-width="1.4"/>
<path d="M575 985 L615 968 L622 976 L582 993 Z M580 1030 L620 1015 L625 1023 L586 1038 Z" fill="#fff" stroke-width="1.4"/>
<circle cx="596" cy="1000" r="9" stroke-width="1.4"/><circle cx="596" cy="1000" r="4" stroke-width="1.2"/>
<path d="M585 912 L620 900 L624 908 L590 921 Z" fill="#fff" stroke-width="1.4"/>
<path d="M523 955 L552 947 L552 1052 L523 1062 Z" fill="#e4e4e4"/>
<path d="M530 953 L530 1060 M545 949 L545 1055" stroke-width="1"/>
<path d="M499 902 L499 908 A28 13 0 0 0 555 908 L555 902" fill="#eee"/>
<ellipse cx="527" cy="902" rx="28" ry="13" fill="#fff"/>
<path d="M474 902 L496 891 L508 905 L486 915 Z" fill="#fff" stroke-width="1.5"/>
<path d="M313 992 L429 932 L523 952 L407 1012 Z" fill="#fafafa"/>
<path d="M362 1022 L523 952 L523 1060 L362 1115 Z" fill="#e8e8e8"/>
<path d="M407 1012 L407 1120 M407 1066 L523 1008" stroke-width="1.4"/>
<path d="M340 990 L440 938" stroke-width="1.2"/>
<path d="M396 949 L429 932 L523 952 L523 1060 L490 1077 L490 969 Z" fill="url(#bk)" stroke="#111"/>
<circle cx="312" cy="992" r="5" fill="#fff"/><circle cx="407" cy="1010" r="5" fill="#fff"/><circle cx="405" cy="1122" r="5" fill="#fff"/>
<path d="M273 1010 Q307 1014 357 1024 Q373 1028 373 1044 L373 1122 Q373 1139 357 1136 Q307 1129 279 1123 Q264 1119 264 1105 L264 1024 Q264 1009 273 1010 Z" fill="#eee" stroke-width="1.6"/>
<path d="M266 1008 Q300 1012 350 1022 Q366 1026 366 1042 L366 1120 Q366 1137 350 1134 Q300 1127 272 1121 Q257 1117 257 1103 L257 1022 Q257 1007 266 1008 Z" fill="#fff" stroke-width="2.4"/>
<path d="M274 1018 Q305 1022 346 1030 Q356 1033 356 1045 L356 1115 Q356 1126 345 1124 Q305 1117 277 1111 Q267 1108 267 1098 L267 1029 Q267 1017 274 1018 Z" stroke-width="1.5"/>
<path d="M319 1037 V1098 M292 1062 L345 1073" stroke-width="1.6"/>

<!-- ===== BOX 11 ===== -->
<path d="M815 930 Q825 910 860 905 Q885 908 905 918 Q930 925 955 935 Q970 948 975 970 L978 1000 L982 1030 L978 1060 L981 1090 Q975 1110 950 1120 L920 1118 L860 1105 L815 1000 Z" fill="#fff"/>
<g stroke-width="1.6">
<ellipse cx="867" cy="925" rx="17" ry="8" transform="rotate(20 867 925)"/>
<ellipse cx="907" cy="940" rx="17" ry="8" transform="rotate(20 907 940)"/>
<ellipse cx="945" cy="956" rx="15" ry="8" transform="rotate(25 945 956)"/>
<ellipse cx="962" cy="1003" rx="6" ry="17"/>
<ellipse cx="962" cy="1052" rx="6" ry="17"/>
<ellipse cx="957" cy="1097" rx="6" ry="12"/>
<circle cx="937" cy="968" r="7"/><circle cx="937" cy="968" r="3"/>
<circle cx="937" cy="1080" r="7"/><circle cx="937" cy="1080" r="3"/>
<circle cx="828" cy="925" r="6"/>
</g>
<path d="M712 1010 L760 985 L880 982 L905 995 L860 1022 L831 1030 Z" fill="#f6f6f6"/>
<path d="M860 1020 L905 995 L918 1002 L918 1105 L888 1122 L860 1125 Z" fill="#fff"/>
<path d="M872 1035 Q885 1010 910 1008 L912 1100 Q890 1112 875 1110 Z" stroke-width="1.4"/>
<circle cx="893" cy="1060" r="9" stroke-width="1.4"/><circle cx="893" cy="1060" r="4" stroke-width="1.2"/>
<path d="M880 1000 L912 990 L916 998 L884 1010 Z" fill="#fff" stroke-width="1.4"/>
<path d="M831 1030 L860 1020 L860 1125 L831 1135 Z" fill="#e4e4e4"/>
<path d="M838 1028 L838 1133 M852 1023 L852 1128" stroke-width="1"/>
<path d="M804 968 L804 974 A27 14 0 0 0 858 974 L858 968" fill="#eee"/>
<ellipse cx="831" cy="968" rx="27" ry="14" fill="#fff"/>
<path d="M775 968 L798 957 L810 971 L787 981 Z" fill="#fff" stroke-width="1.5"/>
<path d="M594 1067 L716 1010 L831 1030 L709 1080 Z" fill="#fafafa"/>
<path d="M668 1085 L831 1030 L831 1133 L668 1200 Z" fill="#e8e8e8"/>
<path d="M709 1080 L709 1193 M709 1137 L831 1082" stroke-width="1.4"/>
<path d="M630 1066 L730 1020" stroke-width="1.2"/>
<path d="M680 1027 L712 1012 L831 1030 L831 1133 L796 1149 L796 1044 Z" fill="url(#bk)" stroke="#111"/>
<path d="M720 1050 L745 1040" stroke-width="2"/>
<circle cx="596" cy="1066" r="5" fill="#fff"/><circle cx="709" cy="1078" r="5.5" fill="#fff"/><circle cx="709" cy="1195" r="5.5" fill="#fff"/>
<path d="M556 1085 Q608 1090 663 1099 Q680 1103 680 1120 L680 1197 Q680 1214 663 1211 Q608 1202 563 1192 Q545 1188 545 1172 L545 1100 Q545 1084 556 1085 Z" fill="#eee" stroke-width="1.6"/>
<path d="M548 1083 Q600 1088 655 1097 Q672 1101 672 1118 L672 1195 Q672 1212 655 1209 Q600 1200 555 1190 Q537 1186 537 1170 L537 1098 Q537 1082 548 1083 Z" fill="#fff" stroke-width="2.4"/>
<path d="M557 1094 Q602 1099 650 1107 Q662 1110 662 1122 L662 1190 Q662 1201 650 1199 Q602 1190 560 1180 Q547 1177 547 1165 L547 1106 Q547 1093 557 1094 Z" stroke-width="1.5"/>
<path d="M624 1110 V1170 M598 1135 L650 1147" stroke-width="1.6"/>
</g>

<!-- ===== labels ===== -->
<g font-family="'Liberation Sans', sans-serif" font-size="42" fill="#111" text-anchor="middle">
<text x="1109" y="33">5</text>
<text x="1289" y="77">5</text>
<text x="810" y="165">9</text>
<text x="922" y="215">10</text>
<text x="685" y="204">4</text>
<text x="590" y="284">8</text>
<text x="413" y="356">7</text>
<text x="202" y="396">6</text>
<text x="883" y="456">13</text>
<text x="572" y="688">2</text>
<text x="726" y="756">3</text>
<text x="434" y="890">1</text>
<text x="1250" y="1047">12</text>
<text x="1073" y="1157">15</text>
<text x="930" y="1228">11</text>
<text x="787" y="1355">14</text>
<text x="1037" y="1480">16</text>
</g>
</svg>
</body></html>
